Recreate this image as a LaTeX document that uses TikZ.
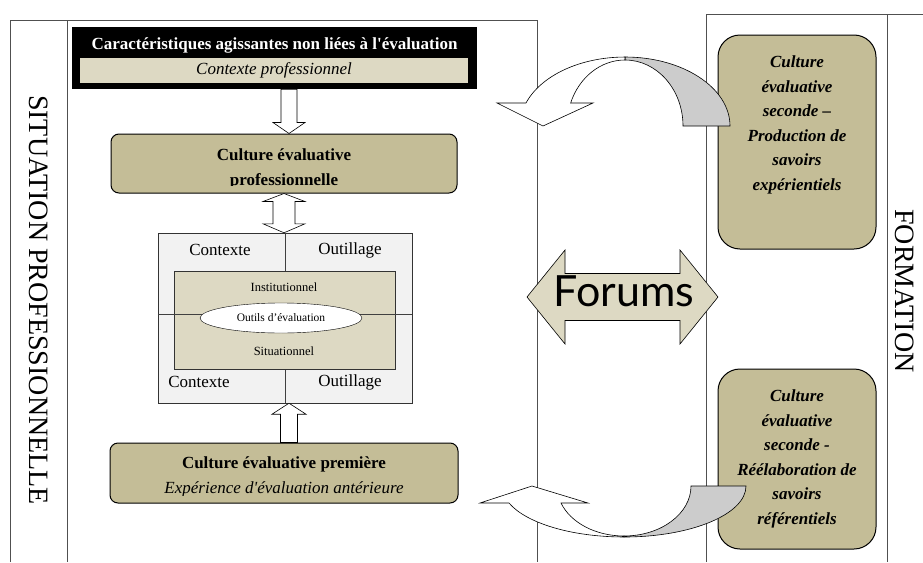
\documentclass[tikz,border=0pt]{standalone}
\usepackage{fontspec}
\setmainfont{Liberation Serif}
\newfontfamily\forumsfont{Lato}
\usetikzlibrary{calc}
\usetikzlibrary{shapes.geometric}
\definecolor{tan}{RGB}{196, 189, 151}
\definecolor{beige}{RGB}{221, 217, 195}
\definecolor{lightgrey}{RGB}{242, 242, 242}
\definecolor{backgrey}{RGB}{204, 204, 204}
\definecolor{frameline}{RGB}{80, 80, 80}
\def\fsbig{\fontsize{17}{24.6}\selectfont}
\def\fssmall{\fontsize{12.5}{15}\selectfont}
\def\fstiny{\fontsize{11.5}{14}\selectfont}
\def\fsside{\fontsize{28}{30}\selectfont}

\begin{document}
\begin{tikzpicture}[x=1pt, y=-1pt,
    frame/.style={draw=frameline, line width=0.9pt},
    tanbox/.style={draw=black, fill=tan, line width=1pt, rounded corners=8pt, inner sep=0pt},
    blockarrow/.style={draw=black, fill=white, line width=0.6pt},
    gridline/.style={draw=black!75, line width=0.8pt}]

    \useasboundingbox (0,0) rectangle (923,562);

    % cadres
    \draw[frame] (10,562) -- (10,20) -- (537,20) -- (537,562);
    \draw[frame] (67,20) -- (67,562);
    \draw[frame] (706,562) -- (706,14) -- (923,14);
    \draw[frame] (887,14) -- (887,562);

    \node[font=\fsside, rotate=-90] (situation) at (39,300) {SITUATION PROFESSIONNELLE};
    \node[font=\fsside, rotate=-90] (formation) at (905,291) {FORMATION};

    % contexte professionnel
    \node[fill=black, minimum width=405pt, minimum height=62pt, inner sep=0pt] (carac) at (274.5,58) {};
    \node[text=white, font=\fsbig\bfseries] (caractitle) at (274.5,45)
    {Caractéristiques agissantes non liées à l\textquotesingle évaluation};
    \node[fill=beige, minimum width=388pt, minimum height=25pt, inner sep=0pt,
    font=\fsbig\itshape] (ctxpro) at (274,70.5) {Contexte professionnel};

    % culture professionnelle
    \node[tanbox, minimum width=346pt, minimum height=59pt] (culpro) at (284,163.5) {};
    \begin{scope}
        \clip (111,134) rectangle (457,185);
        \node[font=\fsbig\bfseries, align=center] (culprotxt) at (284,169)
        {Culture évaluative\\professionnelle};
    \end{scope}

    % contexte / outillage
    \node[draw=black!80, fill=lightgrey, minimum width=254pt, minimum height=170pt,
    inner sep=0pt] (grid) at (285,318) {};
    \draw[gridline] (grid.north) -- (grid.south);
    \node[draw=black!80, fill=beige, minimum width=221pt, minimum height=98pt,
    inner sep=0pt] (inner) at (284.5,320) {};
    \draw[gridline] ($(grid.west)+(0,-4)$) -- ($(grid.east)+(0,-4)$);
    \node[ellipse, draw=black, fill=white, minimum width=162pt, minimum height=30pt,
    inner sep=0pt, font=\fstiny] (outils) at (281,318) {Outils d’évaluation};

    \node[font=\fsbig] (ctxhaut) at (220,250) {Contexte};
    \node[font=\fsbig] (outhaut) at (350,250) {Outillage};
    \node[font=\fsbig] (ctxbas) at (199,382) {Contexte};
    \node[font=\fsbig] (outbas) at (350,382) {Outillage};
    \node[font=\fssmall] (instit) at (284,287) {Institutionnel};
    \node[font=\fssmall] (situat) at (284,351) {Situationnel};

    % culture premiere
    \node[tanbox, minimum width=348pt, minimum height=60pt] (culprem) at (284,473) {};
    \begin{scope}
        \clip (110,443) rectangle (458,495);
        \node[font=\fsbig, align=center] (culpremtxt) at (284,477)
        {\textbf{Culture évaluative première}\\\textit{Expérience d\textquotesingle évaluation antérieure}};
    \end{scope}

    % fleches verticales
    \coordinate (d1) at (289,0 |- carac.south);
    \coordinate (d2) at (289,0 |- culpro.north);
    \draw[blockarrow] ($(d1)+(-8,0)$) -- ($(d2)+(-8,-11)$) -- ($(d2)+(-16,-11)$) -- (d2)
    -- ($(d2)+(16,-11)$) -- ($(d2)+(8,-11)$) -- ($(d1)+(8,0)$) -- cycle;

    \coordinate (u1) at (284,0 |- culpro.south);
    \coordinate (u2) at (284,0 |- grid.north);
    \draw[blockarrow] (u1) -- ($(u1)+(21,8)$) -- ($(u1)+(11,8)$) -- ($(u2)+(11,-9)$)
    -- ($(u2)+(21,-9)$) -- (u2) -- ($(u2)+(-21,-9)$) -- ($(u2)+(-11,-9)$)
    -- ($(u1)+(-11,8)$) -- ($(u1)+(-21,8)$) -- cycle;

    \coordinate (p1) at (289,0 |- culprem.north);
    \coordinate (p2) at (289,0 |- grid.south);
    \draw[blockarrow] ($(p1)+(-8.5,0)$) -- ($(p2)+(-8.5,11)$) -- ($(p2)+(-17,11)$) -- (p2)
    -- ($(p2)+(17,11)$) -- ($(p2)+(8.5,11)$) -- ($(p1)+(8.5,0)$) -- cycle;

    % formation
    \node[tanbox, rounded corners=22pt, minimum width=158pt, minimum height=214pt] (seconde1) at (797,142) {};
    \node[font=\fsbig\bfseries\itshape, align=center] (seconde1txt) at (797,125)
    {Culture\\évaluative\\seconde –\\Production de\\savoirs\\expérientiels};
    \node[tanbox, rounded corners=22pt, minimum width=158pt, minimum height=180pt] (seconde2) at (797,459) {};
    \node[font=\fsbig\bfseries\itshape, align=center] (seconde2txt) at (797,459)
    {Culture\\évaluative\\seconde -\\Réélaboration de\\savoirs\\référentiels};

    % forums
    \draw[blockarrow, fill=beige] (527,297) -- (565,250) -- (565,273.5) -- (680,273.5)
    -- (680,250) -- (718,297) -- (680,344) -- (680,320.5) -- (565,320.5) -- (565,344) -- cycle;
    \node[font=\forumsfont\fontsize{43}{43}\selectfont] (forums) at (624,291) {Forums};

    % fleches courbes
    \draw[blockarrow, fill=backgrey] (625,57)
    arc[start angle=270, end angle=360, x radius=105, y radius=69] -- (683,126)
    arc[start angle=360, end angle=270, x radius=58, y radius=66] -- cycle;
    \draw[blockarrow] (526,103)
    arc[start angle=199.5, end angle=270, x radius=105, y radius=69] -- (625,60)
    arc[start angle=270, end angle=200.4, x radius=58, y radius=66]
    -- (593,103) -- (543,126) -- (497,103) -- cycle;

    \draw[blockarrow, fill=backgrey] (624,537)
    arc[start angle=90, end angle=0, x radius=122, y radius=51] -- (691,486)
    arc[start angle=0, end angle=90, x radius=67, y radius=50] -- cycle;
    \draw[blockarrow] (509,503)
    arc[start angle=160.5, end angle=90, x radius=122, y radius=51] -- (624,536)
    arc[start angle=90, end angle=160.1, x radius=67, y radius=50]
    -- (588,503) -- (532,486) -- (480,503) -- cycle;

\end{tikzpicture}
\end{document}
